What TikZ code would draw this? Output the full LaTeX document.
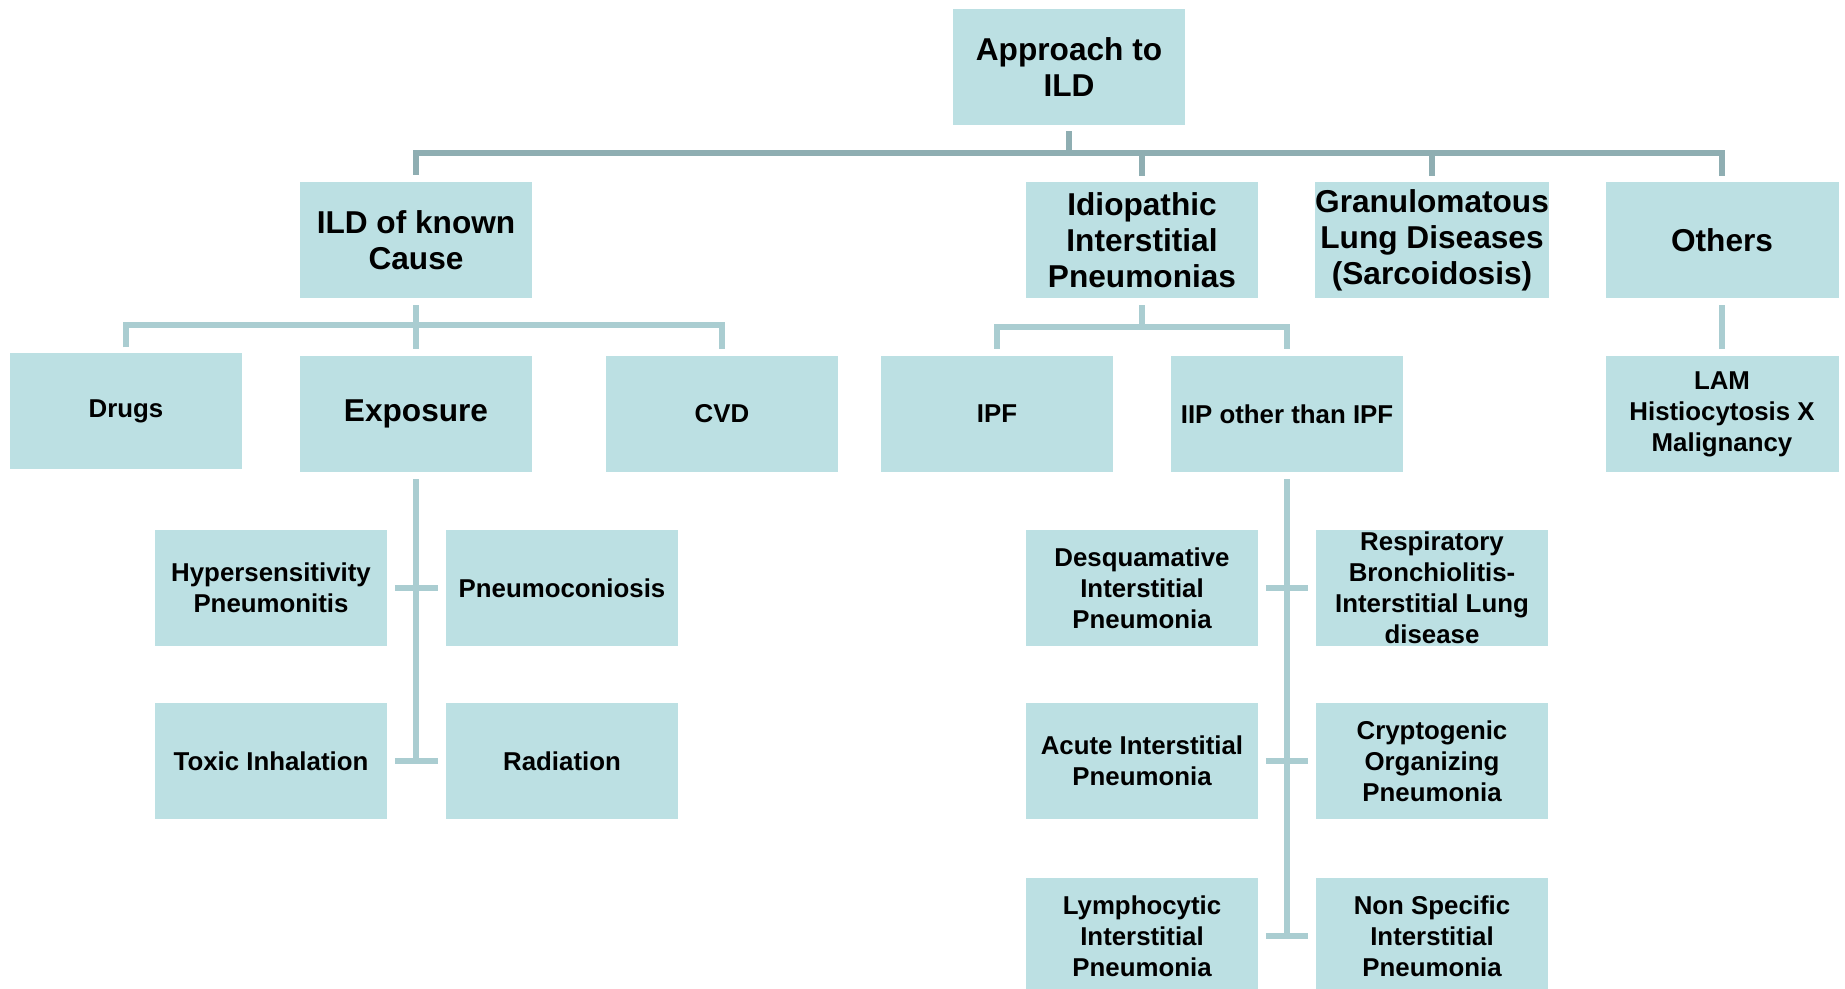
\documentclass[tikz,border=0pt]{standalone}
\usepackage{fontspec}
\setmainfont{Liberation Sans}
\usetikzlibrary{positioning}

\definecolor{boxfill}{HTML}{BCE0E3}
\definecolor{topgray}{HTML}{8FAEB2}
\definecolor{subgray}{HTML}{AACDD1}

\begin{document}
\begin{tikzpicture}[x=0.02cm, y=-0.02cm,
    ildbox/.style={fill=boxfill, draw=none, minimum width=4.66cm, minimum height=2.32cm, inner sep=0pt, align=center},
    bigtext/.style={font=\bfseries\fontsize{18}{20.5}\selectfont},
    smalltext/.style={font=\bfseries\fontsize{14.7}{17.6}\selectfont},
    topline/.style={topgray, line width=3.4pt},
    subline/.style={subgray, line width=3.1pt}]
        \useasboundingbox (0,0) rectangle (1845,989);
        % 根節點
        \node[ildbox, bigtext, minimum height=2.34cm] (root) at (1069,67) {Approach to\\ILD};
        % 第一層
        \node[ildbox, bigtext] (known) at (416,240) {ILD of known\\Cause};
        \node[ildbox, bigtext] (iip) at (1142,240) {Idiopathic\\Interstitial\\Pneumonias};
        \node[ildbox, bigtext] (gran) at (1432,240) {Granulomatous\\Lung Diseases\\(Sarcoidosis)};
        \node[ildbox, bigtext] (others) at (1722,240) {Others};
        % 第二層
        \node[ildbox, smalltext] (drugs) at (126,411) {Drugs};
        \node[ildbox, bigtext] (expo) at (416,414) {Exposure};
        \node[ildbox, smalltext] (cvd) at (722,414) {CVD};
        \node[ildbox, smalltext] (ipf) at (997,414) {IPF};
        \node[ildbox, smalltext] (iipo) at (1287,414) {IIP other than IPF};
        \node[ildbox, smalltext] (lam) at (1722,414) {LAM\\Histiocytosis X\\Malignancy};
        % Exposure 子項
        \node[ildbox, smalltext] (hyper) at (271,588) {Hypersensitivity\\Pneumonitis};
        \node[ildbox, smalltext] (pneumo) at (562,588) {Pneumoconiosis};
        \node[ildbox, smalltext] (toxic) at (271,761) {Toxic Inhalation};
        \node[ildbox, smalltext] (rad) at (562,761) {Radiation};
        % IIP 子項
        \node[ildbox, smalltext] (dip) at (1142,588) {Desquamative\\Interstitial\\Pneumonia};
        \node[ildbox, smalltext] (rbild) at (1432,588) {Respiratory\\Bronchiolitis-\\Interstitial Lung\\disease};
        \node[ildbox, smalltext] (aip) at (1142,761) {Acute Interstitial\\Pneumonia};
        \node[ildbox, smalltext] (cop) at (1432,761) {Cryptogenic\\Organizing\\Pneumonia};
        \node[ildbox, smalltext] (lip) at (1142,936) {Lymphocytic\\Interstitial\\Pneumonia};
        \node[ildbox, smalltext] (nsip) at (1432,936) {Non Specific\\Interstitial\\Pneumonia};
        % 匯流線座標
        \coordinate (bustop) at (1069,153);
        \coordinate (busknown) at (416,325);
        \coordinate (busiip) at (1142,327);
        % 頂層連線
        \draw[topline, shorten <=3pt] (root.south) -- (root.south |- bustop);
        \draw[topline, shorten <=4pt, shorten >=3pt] (known.north) |- (bustop) -| (others.north);
        \draw[topline, shorten >=3pt] (iip.north |- bustop) -- (iip.north);
        \draw[topline, shorten >=3pt] (gran.north |- bustop) -- (gran.north);
        % ILD of known Cause 連線
        \draw[subline, shorten <=4pt, shorten >=4pt] (known.south) -- (expo.north);
        \draw[subline, shorten <=3pt, shorten >=4pt] (drugs.north) |- (busknown) -| (cvd.north);
        % IIP 連線
        \draw[subline, shorten <=4pt] (iip.south) -- (busiip);
        \draw[subline, shorten <=4pt, shorten >=4pt] (ipf.north) |- (busiip) -| (iipo.north);
        % Others 連線
        \draw[subline, shorten <=4pt, shorten >=4pt] (others.south) -- (lam.north);
        % Exposure 主幹與分支
        \draw[subline, shorten <=4pt] (expo.south) -- (expo.south |- toxic.east);
        \draw[subline, shorten <=4pt, shorten >=4pt] (hyper.east) -- (pneumo.west);
        \draw[subline, shorten <=4pt, shorten >=4pt] (toxic.east) -- (rad.west);
        % IIP other than IPF 主幹與分支
        \draw[subline, shorten <=4pt] (iipo.south) -- (iipo.south |- lip.east);
        \draw[subline, shorten <=4pt, shorten >=4pt] (dip.east) -- (rbild.west);
        \draw[subline, shorten <=4pt, shorten >=4pt] (aip.east) -- (cop.west);
        \draw[subline, shorten <=4pt, shorten >=4pt] (lip.east) -- (nsip.west);
    \end{tikzpicture}
\end{document}
